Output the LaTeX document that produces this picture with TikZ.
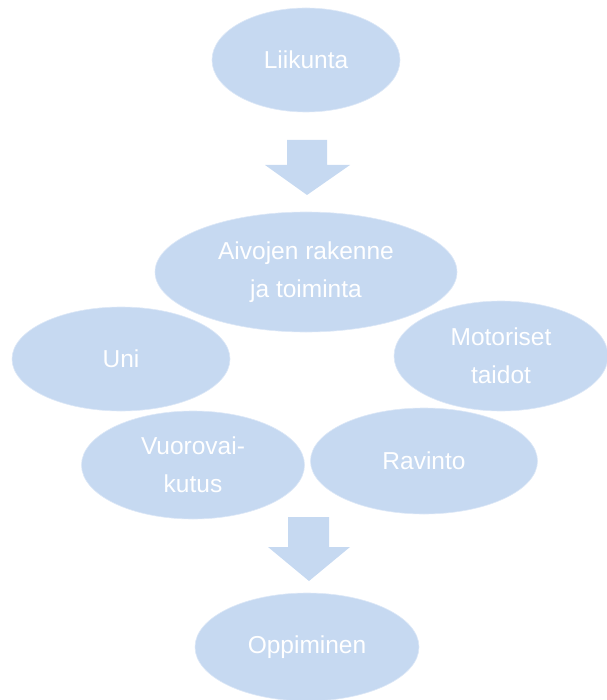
\documentclass[tikz,border=0pt]{standalone}
\usepackage{fontspec}
\setmainfont{Liberation Sans}
\usetikzlibrary{shapes.geometric}
\definecolor{pale}{HTML}{C6D9F1}
\tikzset{
  blob/.style = {shape = ellipse, fill = pale, draw = pale!60!white, line width = .6pt,
                 inner sep = 0pt, text = white, align = center,
                 font = \fontsize{24.5}{38}\selectfont},
  blockarrow/.style = {fill = pale}
}
\begin{document}
\begin{tikzpicture}[x=1pt,y=-1pt]
  \useasboundingbox (0,0) rectangle (606,700);
  % ellipses
  \node[blob, minimum width = 188pt, minimum height = 104pt] (liikunta) at (306,60) {Liikunta};
  \node[blob, minimum width = 302pt, minimum height = 120pt] (aivot) at (306,272) {Aivojen rakenne\\ja toiminta};
  \node[blob, minimum width = 218pt, minimum height = 104pt] (uni) at (121,359) {Uni};
  \node[blob, minimum width = 214pt, minimum height = 110pt] (motoriset) at (501,356) {Motoriset\\taidot};
  \node[blob, minimum width = 223pt, minimum height = 108pt] (vuoro) at (193,465) {Vuorovai-\\kutus};
  \node[blob, minimum width = 227pt, minimum height = 106pt] (ravinto) at (424,461) {Ravinto};
  \node[blob, minimum width = 224pt, minimum height = 108pt] (oppiminen) at (307,647) {Oppiminen};
  % block arrows
  \fill[blockarrow] (287,140) -- (327,140) -- (327,165) -- (350,165) -- (307,195)
                    -- (265,165) -- (287,165) -- cycle;
  \fill[blockarrow] (288,517) -- (329,517) -- (329,547) -- (350,547) -- (309,581)
                    -- (268,547) -- (288,547) -- cycle;
\end{tikzpicture}
\end{document}
